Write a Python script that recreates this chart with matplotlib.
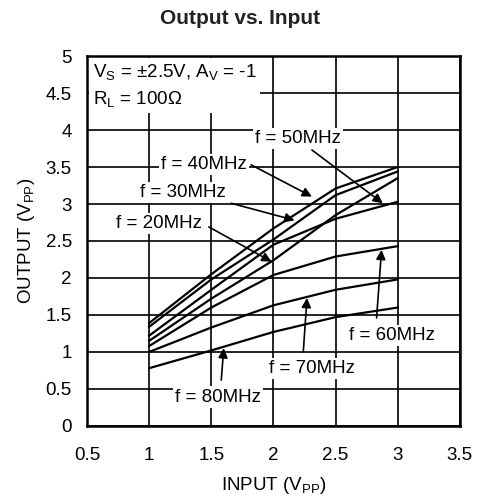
import matplotlib
matplotlib.use("Agg")
import matplotlib.pyplot as plt

plt.rcParams["font.family"] = ["Liberation Sans", "DejaVu Sans"]
plt.rcParams["mathtext.fontset"] = "custom"
plt.rcParams["mathtext.rm"] = "Liberation Sans"
plt.rcParams["mathtext.it"] = "Liberation Sans"

# input (Vpp) sample points, shared by all curves
x_in = [1.0, 1.5, 2.0, 2.5, 3.0]

# output (Vpp) per frequency
out_40 = [1.39, 2.05, 2.67, 3.21, 3.50]
out_30 = [1.34, 1.98, 2.52, 3.12, 3.44]
out_20 = [1.15, 1.72, 2.24, 2.85, 3.35]
out_50 = [1.22, 1.84, 2.45, 2.80, 3.03]
out_60 = [1.08, 1.60, 2.04, 2.29, 2.43]
out_70 = [1.00, 1.33, 1.63, 1.84, 1.98]
out_80 = [0.78, 1.02, 1.27, 1.47, 1.60]

curves = [out_40, out_30, out_20, out_50, out_60, out_70, out_80]

# callouts: label, text position, arrow tail, arrow tip
labels = ["f = 50MHz", "f = 40MHz", "f = 30MHz", "f = 20MHz",
          "f = 60MHz", "f = 70MHz", "f = 80MHz"]
label_pos = [(2.20, 3.89), (1.44, 3.53), (1.27, 3.15), (1.08, 2.74),
             (2.95, 1.22), (2.31, 0.77), (1.55, 0.39)]
arrow_tail = [(2.31, 3.73), (1.82, 3.53), (1.66, 3.01), (1.48, 2.69),
              (2.83, 1.46), (2.24, 1.00), (1.58, 0.62)]
arrow_tip = [(2.88, 3.01), (2.31, 3.10), (2.17, 2.78), (1.985, 2.22),
             (2.87, 2.38), (2.27, 1.73), (1.60, 1.05)]

fs = 13.5

fig = plt.figure(figsize=(4.81, 5.01), dpi=100)
ax = fig.add_axes([0.181, 0.150, 0.775, 0.738])

for ys in curves:
    ax.plot(x_in, ys, color="black", lw=1.6, zorder=2)

for (tx, ty), (hx, hy) in zip(arrow_tail, arrow_tip):
    ax.annotate("", xy=(hx, hy), xytext=(tx, ty), zorder=4,
                arrowprops=dict(arrowstyle="-|>", color="black", lw=1.2,
                                mutation_scale=14, shrinkA=0, shrinkB=0))

for txt, (lx, ly) in zip(labels, label_pos):
    ax.text(lx, ly, txt, fontsize=fs, ha="center", va="center", zorder=5,
            bbox=dict(facecolor="white", edgecolor="none", pad=1.5))

ax.text(0.545, 4.6,
        "V$_\\mathregular{S}$ = \u00b12.5V, A$_\\mathregular{V}$ = -1\n"
        "R$_\\mathregular{L}$ = 100\u03a9",
        fontsize=fs, ha="left", va="center", linespacing=1.45, zorder=5,
        bbox=dict(facecolor="white", edgecolor="none", pad=3))

ax.set_xlim(0.5, 3.5)
ax.set_ylim(0, 5)
ax.set_xticks([0.5, 1, 1.5, 2, 2.5, 3, 3.5])
ax.set_xticklabels(["0.5", "1", "1.5", "2", "2.5", "3", "3.5"])
ax.set_yticks([0, 0.5, 1, 1.5, 2, 2.5, 3, 3.5, 4, 4.5, 5])
ax.set_yticklabels(["0", "0.5", "1", "1.5", "2", "2.5", "3", "3.5", "4", "4.5", "5"])
ax.tick_params(length=0, labelsize=fs, colors="black")
ax.tick_params(axis="x", pad=15)
ax.tick_params(axis="y", pad=11)
ax.grid(True, color="black", lw=1.2)
ax.set_axisbelow(True)
for s in ax.spines.values():
    s.set_linewidth(1.8)

ax.set_xlabel("INPUT (V$_\\mathregular{PP}$)", fontsize=fs, labelpad=8)
ax.set_ylabel("OUTPUT (V$_\\mathregular{PP}$)", fontsize=fs, labelpad=6)

fig.text(0.5, 1 - 19 / 501, "Output vs. Input", ha="center", va="center",
         fontsize=15, fontweight="bold", color="#222222")

fig.savefig("out.png", dpi=100)
